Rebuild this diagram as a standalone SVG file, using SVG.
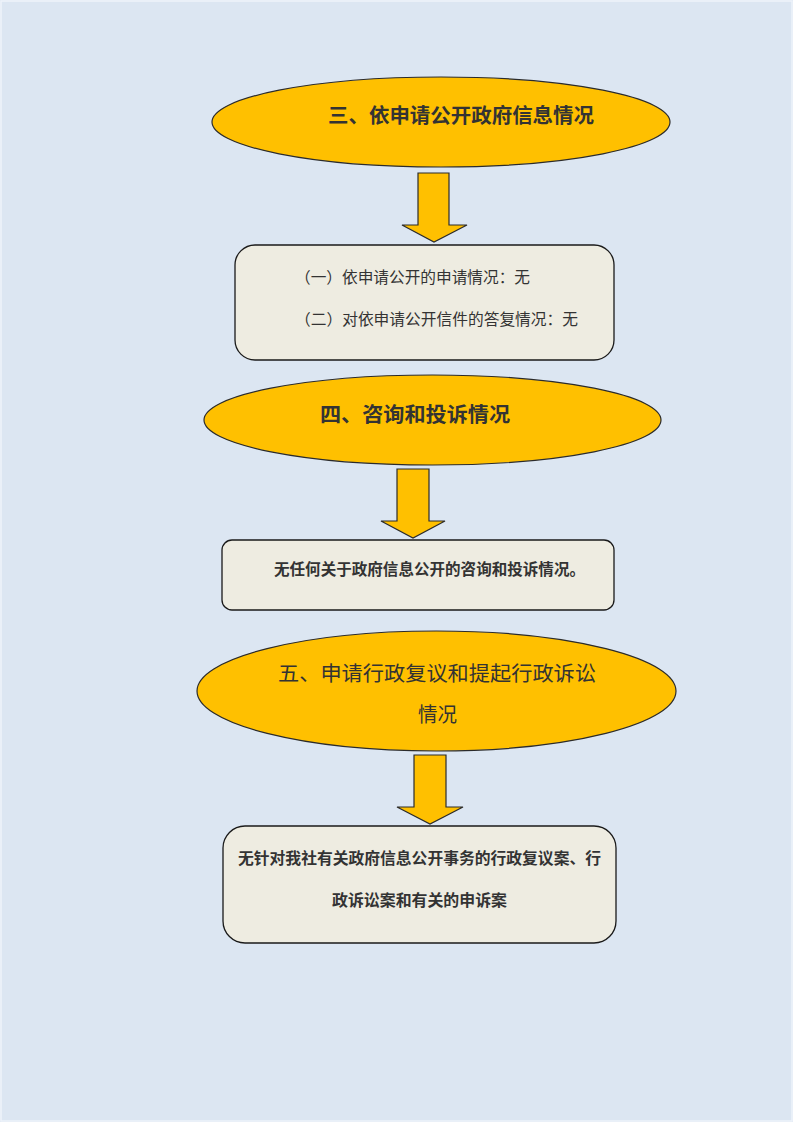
<svg xmlns="http://www.w3.org/2000/svg" width="793" height="1122" viewBox="0 0 793 1122">
<style>
.bg{fill:#dce6f2}
.ell{fill:#ffc000;stroke:#2b2b2b;stroke-width:1.2}
.box{fill:#eeece1;stroke:#1a1a1a;stroke-width:1.3}
.arr{fill:#ffc000;stroke:#2b2b2b;stroke-width:1.2}
text{font-family:"Noto Sans CJK SC","Noto Sans",sans-serif;fill:#333333}
.h{font-size:20.5px;font-weight:bold}
.hr{font-size:20.5px}
.t{font-size:15.5px}
.tb{font-size:15.5px;font-weight:bold}
</style>
<rect class="bg" x="0" y="0" width="793" height="1122"/>
<rect x="1" y="1" width="791" height="1120" fill="none" stroke="#eef3fa" stroke-width="1.5"/>
<g id="connectors">
<polygon class="arr" points="418,173 449,173 449,225 467,225 434,242 402,225 418,225"/>
<polygon class="arr" points="397,469 429,469 429,521 445,521 413,538 381,521 397,521"/>
<polygon class="arr" points="414,755 446,755 446,807 463,807 430,824 397,807 414,807"/>
</g>
<g id="n1">
<ellipse class="ell" cx="441" cy="122" rx="229" ry="45"/>
<text class="h" x="328" y="123" textLength="266" lengthAdjust="spacingAndGlyphs">三、依申请公开政府信息情况</text>
</g>
<g id="n2">
<rect class="box" x="235" y="245" width="379" height="115" rx="20"/>
<text class="t" x="295" y="283" textLength="235" lengthAdjust="spacingAndGlyphs">（一）依申请公开的申请情况：无</text>
<text class="t" x="295" y="325" textLength="283" lengthAdjust="spacingAndGlyphs">（二）对依申请公开信件的答复情况：无</text>
</g>
<g id="n3">
<ellipse class="ell" cx="432.5" cy="420" rx="228.5" ry="45"/>
<text class="h" x="320" y="422" textLength="190" lengthAdjust="spacingAndGlyphs">四、咨询和投诉情况</text>
</g>
<g id="n4">
<rect class="box" x="222" y="540" width="392" height="70" rx="10"/>
<text class="tb" x="274" y="575" textLength="311" lengthAdjust="spacingAndGlyphs">无任何关于政府信息公开的咨询和投诉情况。</text>
</g>
<g id="n5">
<ellipse class="ell" cx="436.5" cy="691" rx="239.5" ry="60"/>
<text class="hr" x="278" y="681" textLength="318" lengthAdjust="spacingAndGlyphs">五、申请行政复议和提起行政诉讼</text>
<text class="hr" x="418" y="722" textLength="39" lengthAdjust="spacingAndGlyphs">情况</text>
</g>
<g id="n6">
<rect class="box" x="223" y="826" width="393" height="117" rx="22"/>
<text class="tb" x="238" y="864" textLength="363" lengthAdjust="spacingAndGlyphs">无针对我社有关政府信息公开事务的行政复议案、行</text>
<text class="tb" x="332" y="906" textLength="175" lengthAdjust="spacingAndGlyphs">政诉讼案和有关的申诉案</text>
</g>
</svg>
